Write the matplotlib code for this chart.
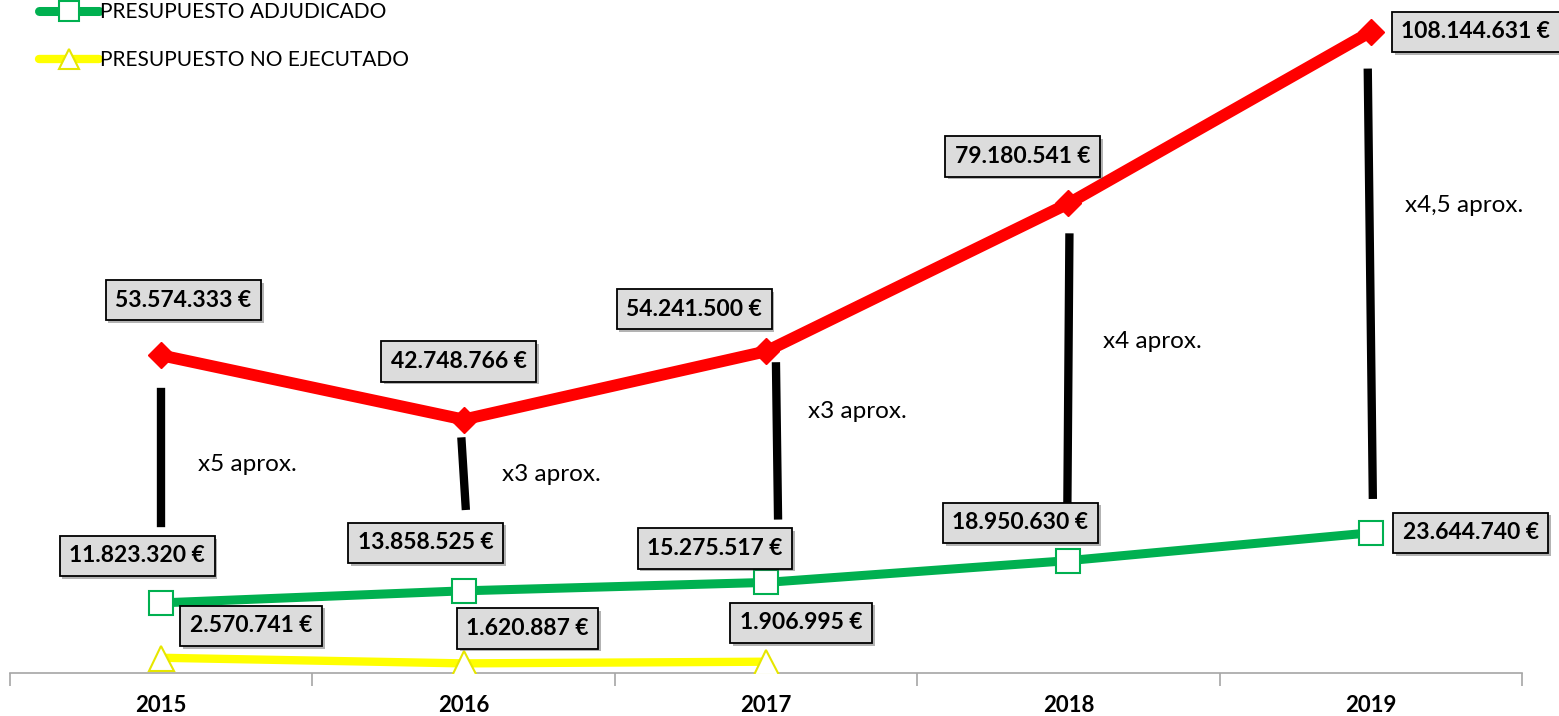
import matplotlib.pyplot as plt
import matplotlib.patheffects as pe
from matplotlib.lines import Line2D

plt.rcParams['font.family'] = ['Lato', 'DejaVu Sans']

years = ['2015', '2016', '2017', '2018', '2019']
licitado = [53574333, 42748766, 54241500, 79180541, 108144631]
adjudicado = [11823320, 13858525, 15275517, 18950630, 23644740]
no_ejecutado = [2570741, 1620887, 1906995]
ratios = ['x5 aprox.', 'x3 aprox.', 'x3 aprox.', 'x4 aprox.', 'x4,5 aprox.']

# label offsets in pixels (dx, dy) from each point
off_red = [(22, 55), (-5, 58), (-72, 42), (-46, 47), (105, 0)]
off_green = [(-24, 47), (-38, 48), (-51, 34), (-48, 38), (100, 0)]
off_yellow = [(90, 32), (64, 35), (35, 39)]
# black bar: gaps (below red point, above green point), x shifts, text position
gap_top = [37, 22, 15, 34, 41]
gap_bot = [80, 85, 67, 61, 38]
bar_dx = [(0, 0), (-2, 2), (10, 12), (1, -1), (-3, 2)]
txt_off = [(37, -109), (38, -55), (42, -60), (35, -138), (34, -174)]


def fmt(v):
    return '{:,}'.format(v).replace(',', '.') + ' €'


fig = plt.figure(figsize=(15.59, 7.16), dpi=100)
ax = fig.add_axes([10 / 1559, 43 / 716, 1512 / 1559, 673 / 716])
x = list(range(len(years)))

ax.plot(x, licitado, color='#ff0000', lw=8.5, marker='D', ms=13.5,
        mfc='#ff0000', mec='#ff0000', zorder=3, solid_capstyle='round')
ax.plot(x, adjudicado, color='#00b050', lw=6.5, marker='s', ms=17,
        mfc='white', mec='#00b050', mew=1.5, zorder=3)
ax.plot(x[:3], no_ejecutado, color='#ffff00', lw=6, marker='^', ms=18,
        mfc='white', mec='#e6e600', mew=1.5, zorder=3)

ax.set_xlim(-0.5, 4.5)
ax.set_ylim(0, 113.5e6)

box = dict(boxstyle='square,pad=0.42', fc='#dcdcdc', ec='black', lw=1.3)


def label(xi, yi, txt, off):
    t = ax.annotate(txt, (xi, yi), xytext=off, textcoords='offset pixels',
                    ha='center', va='center', fontsize=16.5, fontweight='bold',
                    bbox=box, zorder=5)
    t.get_bbox_patch().set_path_effects(
        [pe.SimplePatchShadow(offset=(2, -2), alpha=0.4), pe.Normal()])


for i in x:
    label(i, licitado[i], fmt(licitado[i]), off_red[i])
    label(i, adjudicado[i], fmt(adjudicado[i]), off_green[i])
for i in range(len(no_ejecutado)):
    label(i, no_ejecutado[i], fmt(no_ejecutado[i]), off_yellow[i])

# black bars between both series
for i in x:
    top = ax.transData.transform((i, licitado[i]))
    bot = ax.transData.transform((i, adjudicado[i]))
    p0 = ax.transData.inverted().transform((top[0] + bar_dx[i][0], top[1] - gap_top[i]))
    p1 = ax.transData.inverted().transform((bot[0] + bar_dx[i][1], bot[1] + gap_bot[i]))
    ax.plot([p0[0], p1[0]], [p0[1], p1[1]], color='black', lw=6, zorder=2)
    ax.annotate(ratios[i], (i, licitado[i]), xytext=txt_off[i],
                textcoords='offset pixels', ha='left', va='center',
                fontsize=17.5)

for s in ['top', 'right', 'left']:
    ax.spines[s].set_visible(False)
ax.spines['bottom'].set_color('#a6a6a6')
ax.spines['bottom'].set_linewidth(1.2)
ax.set_yticks([])
ax.set_xticks([-0.5, 0.5, 1.5, 2.5, 3.5, 4.5])
ax.set_xticklabels([])
ax.tick_params(axis='x', length=9, color='#a6a6a6', width=1.2)
for i, y in enumerate(years):
    ax.text(i, -0.048, y, transform=ax.get_xaxis_transform(), ha='center',
            va='center', fontsize=16, fontweight='bold')

h1 = Line2D([], [], color='#00b050', lw=6.5, marker='s', ms=14,
            mfc='white', mec='#00b050', mew=1.5, solid_capstyle='round')
h2 = Line2D([], [], color='#ffff00', lw=6, marker='^', ms=14,
            mfc='white', mec='#e6e600', mew=1.5, solid_capstyle='round')
fig.legend([h1, h2], ['PRESUPUESTO ADJUDICADO', 'PRESUPUESTO NO EJECUTADO'],
           loc='upper left', bbox_to_anchor=(20 / 1559, 1.023), frameon=False,
           fontsize=15, handlelength=2.9, handletextpad=0.05, labelspacing=1.35)

fig.savefig('out.png', dpi=100)
